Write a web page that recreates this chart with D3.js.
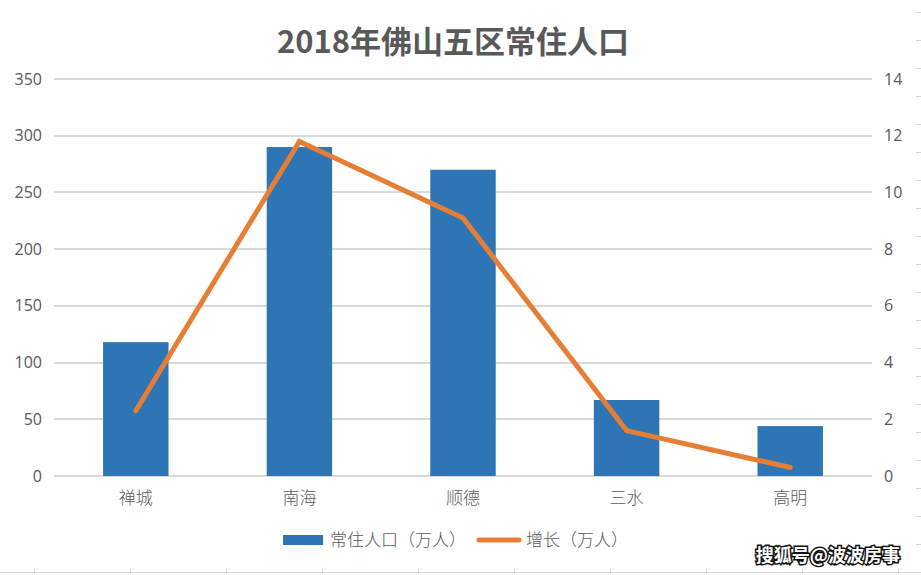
<!DOCTYPE html>
<html>
<head>
<meta charset="utf-8">
<script src="https://cdn.jsdelivr.net/npm/d3@7"></script>
<style>
  html, body { margin: 0; padding: 0; background: #ffffff; }
  svg { display: block; }
  text { font-family: "Noto Sans CJK SC", "Noto Sans", sans-serif; }
</style>
</head>
<body>
<svg id="chart" width="921" height="575"></svg>
<script>
const title = "2018年佛山五区常住人口";
const categories = ["禅城", "南海", "顺德", "三水", "高明"];
const population = [118, 290, 270, 67, 44];
const growth = [2.3, 11.8, 9.1, 1.6, 0.3];
const leftTicks = [0, 50, 100, 150, 200, 250, 300, 350];
const rightTicks = [0, 2, 4, 6, 8, 10, 12, 14];
const seriesNames = ["常住人口（万人）", "增长（万人）"];
const watermark = "搜狐号@波波房事";

const svg = d3.select("#chart");
const W = 921, H = 575;
const margin = { left: 54, right: 49, top: 79, bottom: 99 };
const x0 = margin.left, x1 = W - margin.right;
const yTop = margin.top, yBot = H - margin.bottom;

const textColor = "#595959";
const barColor = "#2e75b6";
const lineColor = "#e67e35";
const gridColor = "#d9d9d9";

// Excel-like sheet gridline remnants
const sheet = svg.append("g");
sheet.append("line").attr("x1", 0).attr("x2", W).attr("y1", 572.5).attr("y2", 572.5)
  .attr("stroke", "#d6d6d6").attr("stroke-width", 1);
d3.range(34, W, 96).forEach(xx => {
  sheet.append("line").attr("x1", xx + 0.5).attr("x2", xx + 0.5).attr("y1", 569).attr("y2", 573)
    .attr("stroke", "#cfcfcf").attr("stroke-width", 1);
});
d3.range(12, 570, 28).forEach(yy => {
  sheet.append("line").attr("x1", 916).attr("x2", 921).attr("y1", yy + 0.5).attr("y2", yy + 0.5)
    .attr("stroke", "#d6d6d6").attr("stroke-width", 1);
});

const x = d3.scaleBand().domain(categories).range([x0, x1]).paddingInner(0.6).paddingOuter(0.3);
const yL = d3.scaleLinear().domain([0, 350]).range([yBot, yTop]);
const yR = d3.scaleLinear().domain([0, 14]).range([yBot, yTop]);

// Gridlines
svg.append("g").selectAll("line").data(leftTicks).join("line")
  .attr("x1", x0).attr("x2", x1)
  .attr("y1", d => Math.round(yL(d))).attr("y2", d => Math.round(yL(d)))
  .attr("stroke", gridColor).attr("stroke-width", 2);

// Left axis
const axL = svg.append("g").attr("transform", `translate(${x0 - 12},0)`)
  .call(d3.axisLeft(yL).tickValues(leftTicks).tickSize(0).tickPadding(0));
axL.select(".domain").remove();
axL.selectAll("text").attr("fill", textColor).style("font-size", "16px")
  .style("font-family", "'Open Sans', 'Noto Sans', sans-serif");

// Right axis
const axR = svg.append("g").attr("transform", `translate(${x1 + 12},0)`)
  .call(d3.axisRight(yR).tickValues(rightTicks).tickSize(0).tickPadding(0));
axR.select(".domain").remove();
axR.selectAll("text").attr("fill", textColor).style("font-size", "16px")
  .style("font-family", "'Open Sans', 'Noto Sans', sans-serif");

// Bars
svg.append("g").selectAll("rect").data(categories).join("rect")
  .attr("x", d => x(d)).attr("width", x.bandwidth())
  .attr("y", (d, i) => yL(population[i]))
  .attr("height", (d, i) => yL(0) - yL(population[i]))
  .attr("fill", barColor);

// Category labels
svg.append("g").selectAll("text").data(categories).join("text")
  .attr("x", d => x(d) + x.bandwidth() / 2).attr("y", yBot + 28)
  .attr("text-anchor", "middle").attr("fill", textColor)
  .style("font-size", "17px").style("font-weight", "300").text(d => d);

// Line
const line = d3.line()
  .x((d, i) => x(categories[i]) + x.bandwidth() / 2)
  .y(d => yR(d));
svg.append("path").datum(growth).attr("d", line)
  .attr("fill", "none").attr("stroke", lineColor).attr("stroke-width", 5)
  .attr("stroke-linejoin", "miter").attr("stroke-linecap", "round");

// Title
svg.append("text").attr("x", 453).attr("y", 53).attr("text-anchor", "middle")
  .attr("fill", textColor).style("font-size", "31px").style("font-weight", "bold")
  .text(title);

// Legend
const lg = svg.append("g");
lg.append("rect").attr("x", 283).attr("y", 535).attr("width", 40).attr("height", 10).attr("fill", barColor);
lg.append("text").attr("x", 330).attr("y", 546).attr("fill", textColor).style("font-size", "17px")
  .style("font-weight", "300").text(seriesNames[0]);
lg.append("line").attr("x1", 479).attr("x2", 519).attr("y1", 540).attr("y2", 540)
  .attr("stroke", lineColor).attr("stroke-width", 5).attr("stroke-linecap", "round");
lg.append("text").attr("x", 526).attr("y", 546).attr("fill", textColor).style("font-size", "17px")
  .style("font-weight", "300").text(seriesNames[1]);

// Watermark
svg.append("text").attr("x", 900).attr("y", 562).attr("text-anchor", "end")
  .attr("fill", "#ffffff").attr("stroke", "#111111").attr("stroke-width", 3)
  .attr("paint-order", "stroke").style("font-size", "18px").style("font-weight", "bold")
  .text(watermark);
</script>
</body>
</html>
